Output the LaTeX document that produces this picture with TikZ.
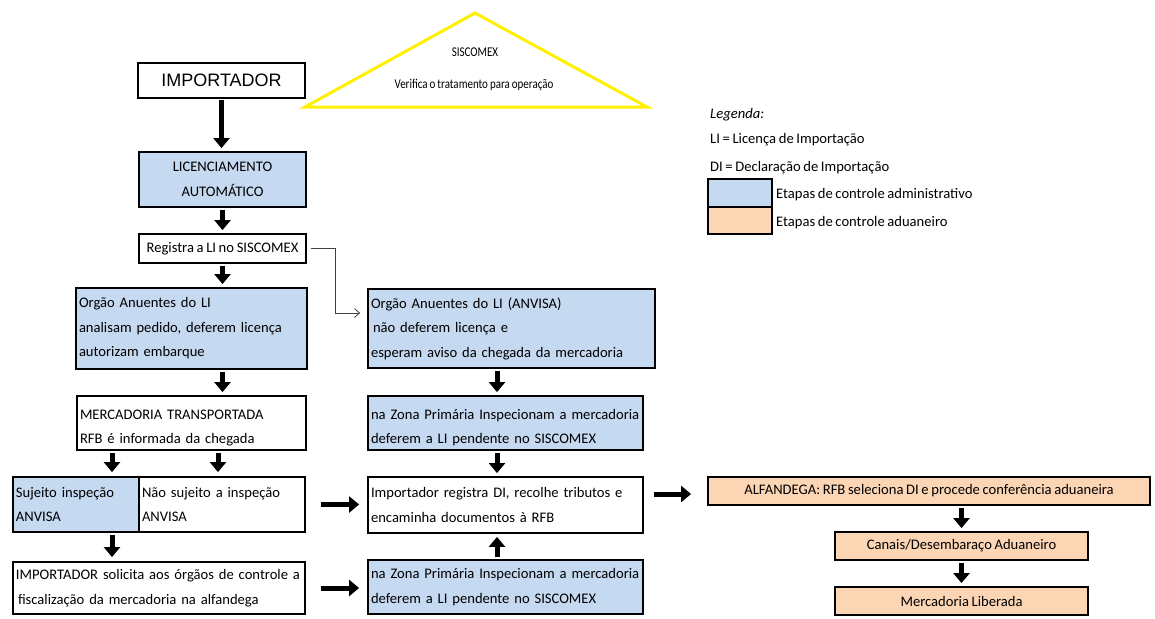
\documentclass[tikz,border=0pt]{standalone}
\usepackage{fontspec}
\setmainfont{Carlito}[WordSpace=0.8]
\newfontfamily\arialf{Liberation Sans}
\newfontfamily\narrowf{Carlito}[FakeStretch=0.82,WordSpace=0.8]
\usetikzlibrary{arrows.meta,calc}
\definecolor{adm}{RGB}{197,217,241}
\definecolor{adu}{RGB}{252,213,180}
\definecolor{triy}{RGB}{255,240,0}
\newcommand{\oneline}[1]{\mbox{#1}}
\newcommand{\lowr}{\rule{0pt}{19pt}}
\begin{document}
\begin{tikzpicture}[x=1pt,y=-1pt,
  box/.style={draw=black,line width=1.8pt,inner xsep=3pt,inner ysep=0pt,font=\fontsize{14.6}{24.5}\selectfont},
  lbox/.style={box,align=left},
  cbox/.style={box,align=center},
  big/.style={line width=5pt,-{Triangle[length=10pt,width=16pt]}},
  thinarrow/.style={line width=0.8pt,draw=black!75,-{Straight Barb[length=5pt,width=9pt]}},
  legtext/.style={anchor=west,inner sep=0pt,font=\fontsize{14.6}{18}\selectfont},
  tritext/.style={inner sep=0pt,font=\narrowf\fontsize{13.4}{15}\selectfont}
]
\useasboundingbox (0,0) rectangle (1155,618);

% triangle
\draw[triy,line width=3pt,line join=miter] (305,107) -- (647,107) -- (475,13) -- cycle;
\node[tritext] (sis) at (475,52) {SISCOMEX};
\node[tritext] (ver) at (474,85) {Verifica o tratamento para operação};

% left column
\node[cbox,minimum width=167pt,minimum height=35pt,font=\arialf\fontsize{18}{20}\selectfont] (imp) at (221.5,80.5) {IMPORTADOR};
\node[cbox,fill=adm,minimum width=167pt,minimum height=55pt] (lic) at (222.5,179.5) {LICENCIAMENTO\\AUTOMÁTICO};
\node[cbox,minimum width=167pt,minimum height=29pt] (reg) at (222.5,248.5) {Registra a LI no SISCOMEX};
\node[lbox,fill=adm,text width=225pt,minimum height=81pt] (org1) at (191.5,328.5) {\oneline{Orgão Anuentes do LI}\\\oneline{analisam pedido, deferem licença}\\\oneline{autorizam embarque}};
\node[lbox,text width=223pt,minimum height=54pt] (merc) at (191.5,423) {\lowr\oneline{MERCADORIA TRANSPORTADA}\\\oneline{RFB é informada da chegada}};
\node[lbox,fill=adm,text width=120pt,minimum height=55pt] (suj) at (76,504.5) {\oneline{Sujeito inspeção}\\\oneline{ANVISA}};
\node[lbox,text width=160pt,minimum height=55pt] (nao) at (222,504.5) {\oneline{Não sujeito a inspeção}\\\oneline{ANVISA}};
\node[lbox,text width=286pt,minimum height=52pt] (sol) at (159,588) {\oneline{IMPORTADOR solicita aos órgãos de controle a}\\\hspace*{2pt}\oneline{fiscalização da mercadoria na alfandega}};

% middle column
\node[lbox,fill=adm,text width=281pt,minimum height=79pt] (org2) at (511.5,328.5) {\oneline{Orgão Anuentes do LI (ANVISA)}\\\hspace*{2pt}\oneline{não deferem licença e}\\\oneline{esperam aviso da chegada da mercadoria}};
\node[lbox,fill=adm,text width=269pt,minimum height=54pt] (zona1) at (505.5,423) {\lowr\oneline{na Zona Primária Inspecionam a mercadoria}\\\oneline{deferem a LI pendente no SISCOMEX}};
\node[lbox,text width=269pt,minimum height=56pt] (regdi) at (505.5,505) {\oneline{Importador registra DI, recolhe tributos e}\\\oneline{encaminha documentos à RFB}};
\node[lbox,fill=adm,text width=269pt,minimum height=54pt] (zona2) at (505.5,587) {\oneline{na Zona Primária Inspecionam a mercadoria}\\\oneline{deferem a LI pendente no SISCOMEX}};

% right column
\node[cbox,fill=adu,minimum width=442pt,minimum height=28pt] (alf) at (929,491) {ALFANDEGA: RFB seleciona DI e procede conferência aduaneira};
\node[cbox,fill=adu,minimum width=253pt,minimum height=28pt] (can) at (961.5,546) {Canais/Desembaraço Aduaneiro};
\node[cbox,fill=adu,minimum width=253pt,minimum height=28pt] (lib) at (961.5,601) {Mercadoria Liberada};

% legend
\node[legtext,font=\itshape\fontsize{14.6}{18}\selectfont] (leg) at (710,115) {Legenda:};
\node[legtext] (leg1) at (710,140) {LI = Licença de Importação};
\node[legtext] (leg2) at (710,168) {DI = Declaração de Importação};
\node[draw=black,line width=1.8pt,fill=adm,minimum width=64pt,minimum height=27.5pt,inner sep=0pt] (sw1) at (740,193) {};
\node[draw=black,line width=1.8pt,fill=adu,minimum width=64pt,minimum height=27.5pt,inner sep=0pt] (sw2) at (740,220.5) {};
\node[legtext] (leg3) at (776,195) {Etapas de controle administrativo};
\node[legtext] (leg4) at (776,223) {Etapas de controle aduaneiro};

% big arrows
\draw[big,shorten <=1pt,shorten >=3pt] (imp.south) -- (imp.south |- lic.north);
\draw[big,shorten <=2pt,shorten >=3pt] (lic.south) -- (lic.south |- reg.north);
\draw[big,shorten <=2pt,shorten >=3pt] (reg.south) -- (reg.south |- org1.north);
\draw[big,shorten <=2pt,shorten >=3pt] (reg.south |- org1.south) -- (reg.south |- merc.north);
\draw[big,shorten <=2pt,shorten >=4pt] ([xshift=36pt]suj.north |- merc.south) -- ([xshift=36pt]suj.north);
\draw[big,shorten <=2pt,shorten >=4pt] ([xshift=-4pt]nao.north |- merc.south) -- ([xshift=-4pt]nao.north);
\draw[big,shorten <=2pt,shorten >=4pt] ([xshift=36pt]suj.south) -- ([xshift=36pt]suj.south |- sol.north);
\draw[big,shorten <=2pt,shorten >=3pt] ([xshift=-8.5pt]zona1.north |- org2.south) -- ([xshift=-8.5pt]zona1.north);
\draw[big,shorten <=2pt,shorten >=3pt] ([xshift=-8.5pt]zona1.south) -- ([xshift=-8.5pt]zona1.south |- regdi.north);
\draw[big,shorten <=2pt,shorten >=3pt] ([xshift=-8.5pt]zona2.north) -- ([xshift=-8.5pt]zona2.north |- regdi.south);
\draw[big,shorten <=15pt,shorten >=8pt] (nao.east) -- (nao.east -| regdi.west);
\draw[big,shorten <=15pt,shorten >=8pt] (sol.east) -- (sol.east -| zona2.west);
\draw[big,shorten <=10pt,shorten >=16pt] ([yshift=-3pt]alf.west -| regdi.east) -- ([yshift=-3pt]alf.west);
\draw[big,shorten <=2pt,shorten >=3pt] (can.north |- alf.south) -- (can.north);
\draw[big,shorten <=2pt,shorten >=3pt] (can.south) -- (lib.north);

% thin connector
\draw[thinarrow,shorten <=4pt,shorten >=7pt] (reg.east) -- ++(28,0) |- ([yshift=15.5pt]org2.west);
\end{tikzpicture}
\end{document}
